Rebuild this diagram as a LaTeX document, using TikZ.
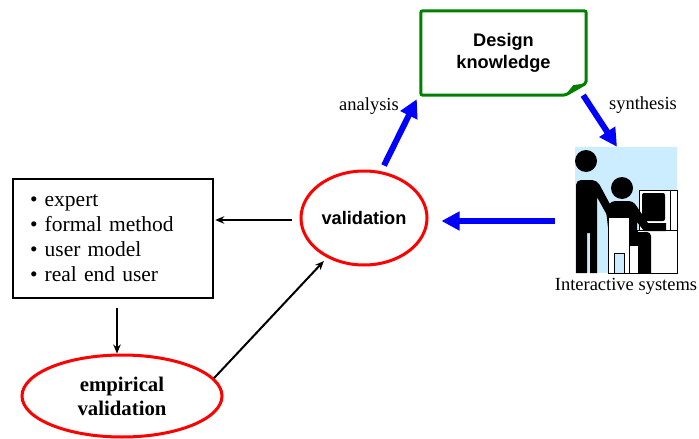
\documentclass[tikz,border=0pt]{standalone}
\usepackage{fontspec}
\setmainfont{Liberation Serif}
\newfontfamily\arialfont{Liberation Sans}
\usetikzlibrary{shapes.geometric,arrows.meta,positioning,calc}
\definecolor{dkgreen}{RGB}{0,128,0}
\definecolor{skyblue}{RGB}{204,236,255}
\begin{document}
\begin{tikzpicture}[x=1pt,y=-1pt,
    oval/.style={ellipse,draw=red,line width=3pt,inner sep=0pt},
    flow/.style={draw=blue,line width=6pt,-{Triangle[length=18pt,width=18pt]}},
    link/.style={line width=2pt,-{Stealth[length=9pt,width=7.5pt]}},
    tag/.style={font=\fontsize{18.5}{20}\selectfont,inner sep=0pt},
    sans/.style={font=\arialfont\bfseries\fontsize{18.2}{22}\selectfont},
    part/.style={draw,fill=white,line width=0.8pt}]
    \useasboundingbox (0,0) rectangle (699,439);
    \node[sans, minimum width=165pt, minimum height=84pt, align=center] (knowledge) at (503.5,53) {Design\\knowledge};
    \draw[dkgreen, line width=3pt, rounded corners=2pt] (knowledge.north west) -- (knowledge.north east)
        -- ($(knowledge.south east)+(0,-12)$) -- ($(knowledge.south east)+(-21,0)$) -- (knowledge.south west) -- cycle;
    \fill[dkgreen] ($(knowledge.south east)+(-21,0)$) -- ($(knowledge.south east)+(-13,-10)$) -- ($(knowledge.south east)+(0,-12)$) -- cycle;
    \node[oval, sans, minimum width=126pt, minimum height=94pt] (validation) at (364,218) {validation};
    \node[draw, line width=2.5pt, minimum width=200pt, minimum height=119pt, text width=166pt, inner xsep=17pt,
        align=left, font=\fontsize{21.5}{25}\selectfont] (methods) at (113,238.5)
        {\textbullet{} expert\\\textbullet{} formal method\\\textbullet{} user model\\\textbullet{} real end user};
    \node[oval, minimum width=200pt, minimum height=82pt, align=center, font=\bfseries\fontsize{20.8}{24}\selectfont]
        (empirical) at (122,396) {empirical\\validation};
    \node[fill=skyblue, minimum width=102pt, minimum height=126pt, inner sep=0pt] (system) at (626,210) {};
    % desk and screen
    \draw[part] (637,230) rectangle (677,273);
    \draw[part] (639,190) rectangle (670,230);
    \draw[part] (670,190) rectangle (677,230);
    \fill[rounded corners=2pt] (642,193) rectangle (665,221);
    % standing person
    \fill (586,161) circle (11);
    \fill (576,273) [rounded corners=5pt] -- (576,180) -- (597,180) [sharp corners] -- (611,206) -- (611,217) -- (608,217)
        -- (597,197) -- (597,273) -- (590,273) -- (590,233) -- (587,233) -- (587,273) -- cycle;
    % seated person
    \fill (622,188) circle (11);
    \fill (606,210) [rounded corners=4pt] -- (611,201) -- (633,201) [sharp corners] -- (648,223) -- (666,223) -- (666,231)
        -- (644,231) -- (637,222) -- (637,232) [rounded corners=4pt] -- (651,232) -- (651,244) [sharp corners] -- (651,273)
        -- (639,273) -- (639,245) -- (610,245) -- cycle;
    % chair
    \draw[part] (608,217) rectangle (629,273);
    \draw[part] (629,245) rectangle (638,273);
    \draw[part, fill=skyblue] (614,253) rectangle (624,273);
    \node[tag, below=5pt of system] (systemlabel) {Interactive systems};
    \node[tag] (analysis) at (369,106) {analysis};
    \node[tag] (synthesis) at (643,105) {synthesis};
    \draw[flow] ($(validation.north)+(20,-4)$) -- ($(knowledge.south west)+(-4,4)$);
    \draw[flow] ($(knowledge.south east)+(-3,0)$) -- ($(system.north)+(-9,0)$);
    \draw[flow] ($(system.west)+(-20,11)$) -- ($(validation.east)+(13,3)$);
    \draw[link] ($(validation.west)+(-8,2)$) -- ($(methods.east)+(1,-18.5)$);
    \draw[link] ($(methods.south)+(4,9)$) -- ($(empirical.north)+(-5,0)$);
    \draw[link, shorten >=4.5pt] (empirical.11) -- (validation.227);
\end{tikzpicture}
\end{document}
